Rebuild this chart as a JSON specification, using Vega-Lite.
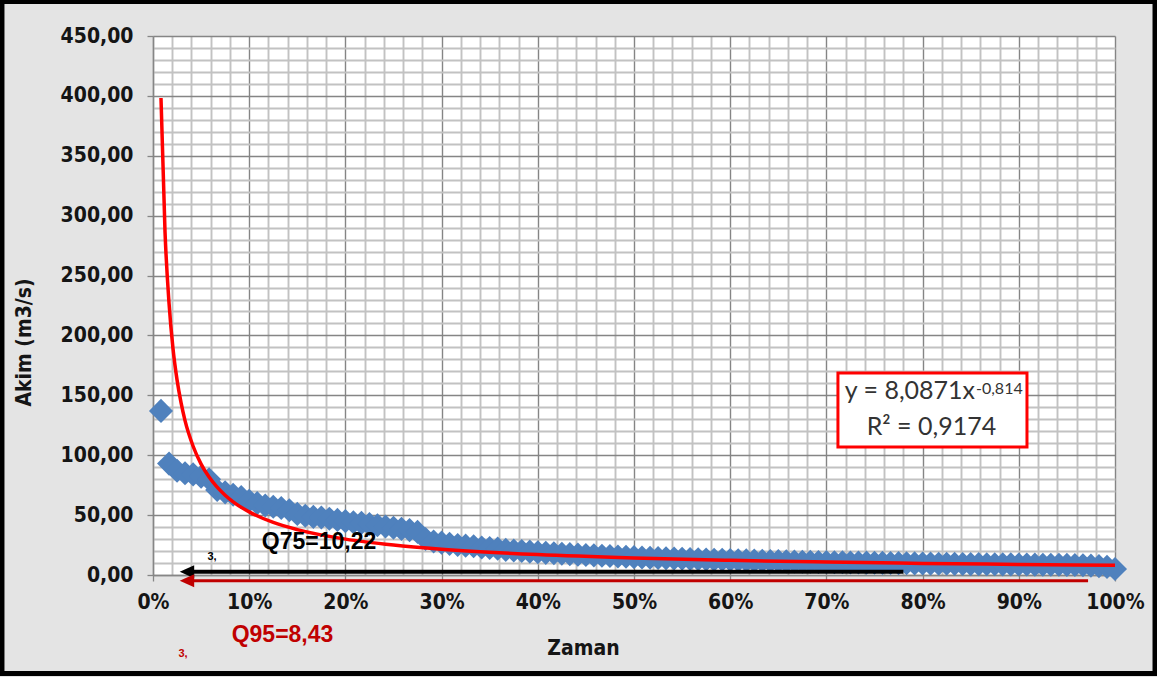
{
  "$schema": "https://vega.github.io/schema/vega-lite/v6.json",
  "autosize": {"type": "none"},
  "width": 962,
  "height": 539,
  "padding": {"left": 153, "top": 36, "right": 42, "bottom": 102},
  "background": "#e4e4e4",
  "config": {
    "locale": {"number": {"decimal": ",", "thousands": ".", "grouping": [3], "currency": ["", " TL"]}},
    "view": {"fill": "white", "stroke": null}
  },
  "datasets": {
    "flow": [
      {"p": 0.0083, "q": 137}, {"p": 0.0167, "q": 93}, {"p": 0.025, "q": 87}, {"p": 0.0333, "q": 85},
      {"p": 0.0417, "q": 84}, {"p": 0.05, "q": 82}, {"p": 0.0583, "q": 80}, {"p": 0.0667, "q": 71},
      {"p": 0.075, "q": 69}, {"p": 0.0833, "q": 67}, {"p": 0.0917, "q": 65}, {"p": 0.1, "q": 62},
      {"p": 0.1083, "q": 60}, {"p": 0.1167, "q": 58}, {"p": 0.125, "q": 57}, {"p": 0.1333, "q": 56},
      {"p": 0.1417, "q": 54}, {"p": 0.15, "q": 51}, {"p": 0.1583, "q": 49.5}, {"p": 0.1667, "q": 48.5},
      {"p": 0.175, "q": 48}, {"p": 0.1833, "q": 47}, {"p": 0.1917, "q": 46}, {"p": 0.2, "q": 45},
      {"p": 0.2083, "q": 44}, {"p": 0.2167, "q": 43.5}, {"p": 0.225, "q": 42.5}, {"p": 0.2333, "q": 41.5},
      {"p": 0.2417, "q": 40.5}, {"p": 0.25, "q": 39.5}, {"p": 0.2583, "q": 38.5}, {"p": 0.2667, "q": 37.5},
      {"p": 0.275, "q": 36}, {"p": 0.2833, "q": 30}, {"p": 0.2917, "q": 28}, {"p": 0.3, "q": 27},
      {"p": 0.3083, "q": 26}, {"p": 0.3167, "q": 25}, {"p": 0.325, "q": 24.5}, {"p": 0.3333, "q": 24},
      {"p": 0.3417, "q": 23}, {"p": 0.35, "q": 22.5}, {"p": 0.3583, "q": 22}, {"p": 0.3667, "q": 21},
      {"p": 0.375, "q": 20.5}, {"p": 0.3833, "q": 20}, {"p": 0.3917, "q": 19.5}, {"p": 0.4, "q": 19},
      {"p": 0.4083, "q": 18.5}, {"p": 0.4167, "q": 18.2}, {"p": 0.425, "q": 17.8}, {"p": 0.4333, "q": 17.4},
      {"p": 0.4417, "q": 17}, {"p": 0.45, "q": 16.7}, {"p": 0.4583, "q": 16.4}, {"p": 0.4667, "q": 16.1},
      {"p": 0.475, "q": 15.8}, {"p": 0.4833, "q": 15.5}, {"p": 0.4917, "q": 15.2}, {"p": 0.5, "q": 14.9},
      {"p": 0.5083, "q": 14.6}, {"p": 0.5167, "q": 14.4}, {"p": 0.525, "q": 14.2}, {"p": 0.5333, "q": 14},
      {"p": 0.5417, "q": 13.8}, {"p": 0.55, "q": 13.6}, {"p": 0.5583, "q": 13.4}, {"p": 0.5667, "q": 13.2},
      {"p": 0.575, "q": 13}, {"p": 0.5833, "q": 12.8}, {"p": 0.5917, "q": 12.7}, {"p": 0.6, "q": 12.5},
      {"p": 0.6083, "q": 12.3}, {"p": 0.6167, "q": 12.2}, {"p": 0.625, "q": 12}, {"p": 0.6333, "q": 11.9},
      {"p": 0.6417, "q": 11.7}, {"p": 0.65, "q": 11.6}, {"p": 0.6583, "q": 11.4}, {"p": 0.6667, "q": 11.3},
      {"p": 0.675, "q": 11.1}, {"p": 0.6833, "q": 11}, {"p": 0.6917, "q": 10.9}, {"p": 0.7, "q": 10.8},
      {"p": 0.7083, "q": 10.7}, {"p": 0.7167, "q": 10.6}, {"p": 0.725, "q": 10.5}, {"p": 0.7333, "q": 10.4},
      {"p": 0.7417, "q": 10.3}, {"p": 0.75, "q": 10.22}, {"p": 0.7583, "q": 10.1}, {"p": 0.7667, "q": 10},
      {"p": 0.775, "q": 9.9}, {"p": 0.7833, "q": 9.8}, {"p": 0.7917, "q": 9.7}, {"p": 0.8, "q": 9.6},
      {"p": 0.8083, "q": 9.5}, {"p": 0.8167, "q": 9.4}, {"p": 0.825, "q": 9.35}, {"p": 0.8333, "q": 9.3},
      {"p": 0.8417, "q": 9.2}, {"p": 0.85, "q": 9.1}, {"p": 0.8583, "q": 9.05}, {"p": 0.8667, "q": 9},
      {"p": 0.875, "q": 8.95}, {"p": 0.8833, "q": 8.9}, {"p": 0.8917, "q": 8.85}, {"p": 0.9, "q": 8.8},
      {"p": 0.9083, "q": 8.7}, {"p": 0.9167, "q": 8.65}, {"p": 0.925, "q": 8.6}, {"p": 0.9333, "q": 8.55},
      {"p": 0.9417, "q": 8.5}, {"p": 0.95, "q": 8.43}, {"p": 0.9583, "q": 8.3}, {"p": 0.9667, "q": 8.1},
      {"p": 0.975, "q": 7.8}, {"p": 0.9833, "q": 7.4}, {"p": 0.9917, "q": 6.8}, {"p": 1, "q": 5}
    ],
    "trend": [
      {"p": 0.0083, "q": 398.2}, {"p": 0.0125, "q": 286.3}, {"p": 0.0167, "q": 226.6}, {"p": 0.0208, "q": 188.9},
      {"p": 0.025, "q": 162.9}, {"p": 0.0292, "q": 143.7}, {"p": 0.0333, "q": 128.9}, {"p": 0.0417, "q": 107.5},
      {"p": 0.05, "q": 92.6}, {"p": 0.0583, "q": 81.8}, {"p": 0.0667, "q": 73.3}, {"p": 0.075, "q": 66.6},
      {"p": 0.0833, "q": 61.1}, {"p": 0.1, "q": 52.7}, {"p": 0.125, "q": 43.9}, {"p": 0.15, "q": 37.9},
      {"p": 0.2, "q": 29.97}, {"p": 0.25, "q": 25.0}, {"p": 0.3, "q": 21.55}, {"p": 0.4, "q": 17.05},
      {"p": 0.5, "q": 14.22}, {"p": 0.6, "q": 12.26}, {"p": 0.7, "q": 10.81}, {"p": 0.8, "q": 9.7},
      {"p": 0.9, "q": 8.81}, {"p": 1, "q": 8.09}
    ]
  },
  "layer": [
    {
      "data": {"name": "flow"},
      "mark": {"type": "point", "shape": "diamond", "filled": true, "size": 580, "color": "#4f81bd", "opacity": 1},
      "encoding": {
        "x": {
          "field": "p", "type": "quantitative",
          "scale": {"domain": [0, 1], "nice": false, "zero": false},
          "axis": {
            "values": [0,0.02,0.04,0.06,0.08,0.1,0.12,0.14,0.16,0.18,0.2,0.22,0.24,0.26,0.28,0.3,0.32,0.34,0.36,0.38,0.4,0.42,0.44,0.46,0.48,0.5,0.52,0.54,0.56,0.58,0.6,0.62,0.64,0.66,0.68,0.7,0.72,0.74,0.76,0.78,0.8,0.82,0.84,0.86,0.88,0.9,0.92,0.94,0.96,0.98,1],
            "tickCount": 500,
            "format": ".0%",
            "labelExpr": "round(datum.value * 50) % 5 == 0 ? datum.label : ''",
            "labelOverlap": false,
            "labelFlush": false,
            "labelFont": "DejaVu Sans Condensed",
            "labelFontWeight": "bold",
            "labelFontSize": 21,
            "labelColor": "#151515",
            "labelPadding": 10,
            "tickSize": 6,
            "tickWidth": 1.3,
            "tickColor": {"condition": {"test": "round(datum.value * 50) % 5 == 0", "value": "#868686"}, "value": "transparent"},
            "grid": true,
            "gridColor": {"condition": {"test": "round(datum.value * 50) % 5 == 0", "value": "#858585"}, "value": "#c2c2c2"},
            "gridWidth": {"condition": {"test": "round(datum.value * 50) % 5 == 0", "value": 1.4}, "value": 1.9},
            "domainColor": "#868686",
            "domainWidth": 1.4,
            "title": "Zaman",
            "titleFont": "DejaVu Sans Condensed",
            "titleFontWeight": "bold",
            "titleFontSize": 21,
            "titleColor": "#151515",
            "titleX": 430,
            "titleY": 73,
            "titleBaseline": "middle",
            "titleAlign": "center"
          }
        },
        "y": {
          "field": "q", "type": "quantitative",
          "scale": {"domain": [0, 450], "nice": false},
          "axis": {
            "values": [0,10,20,30,40,50,60,70,80,90,100,110,120,130,140,150,160,170,180,190,200,210,220,230,240,250,260,270,280,290,300,310,320,330,340,350,360,370,380,390,400,410,420,430,440,450],
            "tickCount": 500,
            "format": ".2f",
            "labelExpr": "round(datum.value) % 50 == 0 ? datum.label : ''",
            "labelOverlap": false,
            "labelFlush": false,
            "labelFont": "DejaVu Sans Condensed",
            "labelFontWeight": "bold",
            "labelFontSize": 21,
            "labelColor": "#151515",
            "labelPadding": 14,
            "tickSize": 6,
            "tickWidth": 1.3,
            "tickColor": {"condition": {"test": "round(datum.value) % 50 == 0", "value": "#868686"}, "value": "transparent"},
            "grid": true,
            "gridColor": {"condition": {"test": "round(datum.value) % 50 == 0", "value": "#858585"}, "value": "#c2c2c2"},
            "gridWidth": {"condition": {"test": "round(datum.value) % 50 == 0", "value": 1.4}, "value": 1.9},
            "domainColor": "#868686",
            "domainWidth": 1.4,
            "title": "Akim (m3/s)",
            "titleFont": "DejaVu Sans Condensed",
            "titleFontWeight": "bold",
            "titleFontSize": 21,
            "titleColor": "#151515",
            "titleAngle": -90,
            "titleX": -129,
            "titleY": 306,
            "titleBaseline": "middle",
            "titleAlign": "center"
          }
        }
      }
    },
    {
      "data": {"name": "trend"},
      "mark": {"type": "line", "color": "#ff0000", "strokeWidth": 3.5, "interpolate": "monotone"},
      "encoding": {
        "x": {"field": "p", "type": "quantitative"},
        "y": {"field": "q", "type": "quantitative"}
      }
    },
    {
      "data": {"values": [{"name": "Q75", "from": 0.0353, "to": 0.78, "q": 2.75}]},
      "mark": {"type": "rule", "color": "#000000", "strokeWidth": 4},
      "encoding": {
        "x": {"field": "from", "type": "quantitative"},
        "x2": {"field": "to"},
        "y": {"field": "q", "type": "quantitative"}
      }
    },
    {
      "data": {"values": [{"name": "Q95", "from": 0.0353, "to": 0.972, "q": -4.76}]},
      "mark": {"type": "rule", "color": "#c00000", "strokeWidth": 3},
      "encoding": {
        "x": {"field": "from", "type": "quantitative"},
        "x2": {"field": "to"},
        "y": {"field": "q", "type": "quantitative"}
      }
    },
    {
      "data": {"values": [{"name": "Q75", "p": 0.0353, "q": 2.75}]},
      "mark": {"type": "point", "shape": "M-1,0L1,-0.9L1,0.9Z", "filled": true, "size": 210, "color": "#000000", "opacity": 1},
      "encoding": {
        "x": {"field": "p", "type": "quantitative"},
        "y": {"field": "q", "type": "quantitative"}
      }
    },
    {
      "data": {"values": [{"name": "Q95", "p": 0.0353, "q": -4.76}]},
      "mark": {"type": "point", "shape": "M-1,0L1,-0.9L1,0.9Z", "filled": true, "size": 210, "color": "#c00000", "opacity": 1},
      "encoding": {
        "x": {"field": "p", "type": "quantitative"},
        "y": {"field": "q", "type": "quantitative"}
      }
    },
    {
      "data": {"values": [{"p": 0.1726, "q": 27.55, "t": "Q75=10,22"}]},
      "mark": {"type": "text", "font": "Liberation Sans", "fontWeight": "bold", "fontSize": 23, "color": "#000000", "align": "center", "baseline": "middle"},
      "encoding": {
        "x": {"field": "p", "type": "quantitative"},
        "y": {"field": "q", "type": "quantitative"},
        "text": {"field": "t"}
      }
    },
    {
      "data": {"values": [{"p": 0.1346, "q": -50.1, "t": "Q95=8,43"}]},
      "mark": {"type": "text", "font": "Liberation Sans", "fontWeight": "bold", "fontSize": 23, "color": "#c00000", "align": "center", "baseline": "middle"},
      "encoding": {
        "x": {"field": "p", "type": "quantitative"},
        "y": {"field": "q", "type": "quantitative"},
        "text": {"field": "t"}
      }
    },
    {
      "data": {"values": [{"p": 0.0613, "q": 15.0, "t": "3,"}]},
      "mark": {"type": "text", "font": "Liberation Sans", "fontWeight": "bold", "fontSize": 11, "color": "#000000", "align": "center", "baseline": "middle"},
      "encoding": {
        "x": {"field": "p", "type": "quantitative"},
        "y": {"field": "q", "type": "quantitative"},
        "text": {"field": "t"}
      }
    },
    {
      "data": {"values": [{"p": 0.0312, "q": -66, "t": "3,"}]},
      "mark": {"type": "text", "font": "Liberation Sans", "fontWeight": "bold", "fontSize": 11, "color": "#c00000", "align": "center", "baseline": "middle"},
      "encoding": {
        "x": {"field": "p", "type": "quantitative"},
        "y": {"field": "q", "type": "quantitative"},
        "text": {"field": "t"}
      }
    },
    {
      "data": {"values": [{"p0": 0.712, "p1": 0.9085, "q0": 168.6, "q1": 106.9}]},
      "mark": {"type": "rect", "fill": "#ffffff", "stroke": "#ff0000", "strokeWidth": 3},
      "encoding": {
        "x": {"field": "p0", "type": "quantitative"},
        "x2": {"field": "p1"},
        "y": {"field": "q0", "type": "quantitative"},
        "y2": {"field": "q1"}
      }
    },
    {
      "data": {"values": [{"p": 0.8545, "q": 146.7, "t": "y = 8,0871x"}]},
      "mark": {"type": "text", "font": "Lato", "fontSize": 25, "color": "#333333", "align": "right", "baseline": "alphabetic"},
      "encoding": {
        "x": {"field": "p", "type": "quantitative"},
        "y": {"field": "q", "type": "quantitative"},
        "text": {"field": "t"}
      }
    },
    {
      "data": {"values": [{"p": 0.8555, "q": 151.5, "t": "-0,814"}]},
      "mark": {"type": "text", "font": "Lato", "fontSize": 16, "color": "#333333", "align": "left", "baseline": "alphabetic"},
      "encoding": {
        "x": {"field": "p", "type": "quantitative"},
        "y": {"field": "q", "type": "quantitative"},
        "text": {"field": "t"}
      }
    },
    {
      "data": {"values": [{"p": 0.8092, "q": 116.5, "t": "R² = 0,9174"}]},
      "mark": {"type": "text", "font": "Lato", "fontSize": 25, "color": "#333333", "align": "center", "baseline": "alphabetic"},
      "encoding": {
        "x": {"field": "p", "type": "quantitative"},
        "y": {"field": "q", "type": "quantitative"},
        "text": {"field": "t"}
      }
    },
    {
      "data": {"values": [{"left": -0.157, "right": 1.0416, "top": 478.8, "bottom": -82.2}]},
      "mark": {"type": "rect", "filled": false, "fill": null, "stroke": "#000000", "strokeWidth": 5},
      "encoding": {
        "x": {"field": "left", "type": "quantitative"},
        "x2": {"field": "right"},
        "y": {"field": "top", "type": "quantitative"},
        "y2": {"field": "bottom"}
      }
    }
  ]
}
